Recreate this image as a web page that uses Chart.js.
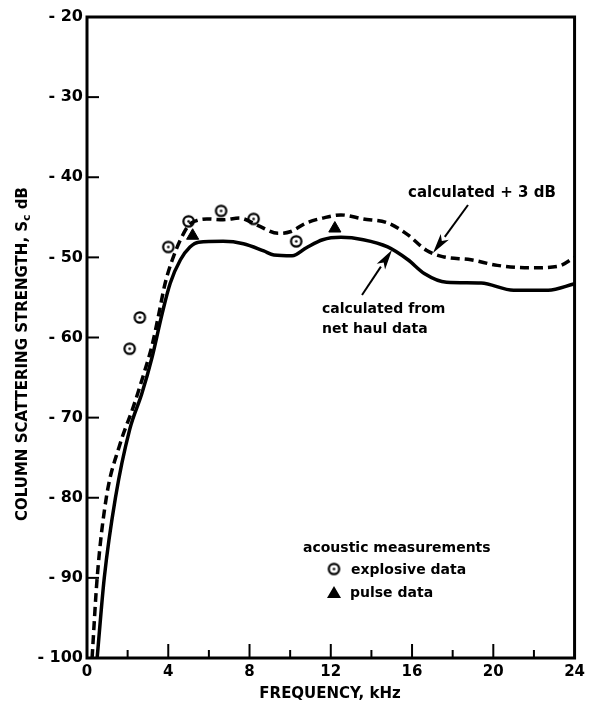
<!DOCTYPE html>
<html lang="en">
  <head>
    <meta charset="UTF-8" />
    <title>Column scattering strength</title>
    <script src="https://cdn.jsdelivr.net/npm/chart.js@4"></script>
  </head>
  <style>
    * {
      margin: 0;
      padding: 0;
      box-sizing: border-box;
    }
    body {
      background: #fff;
    }
    .wrap {
      position: relative;
      width: 590px;
      height: 708px;
    }
  </style>
  <body>
    <div class="wrap">
      <canvas id="chart"></canvas>
    </div>
    <script>
      // calculated from net haul data (solid)
      const netFreq = [0.5, 0.85, 1.4, 2.1, 2.7, 3.2, 3.7, 4.1, 4.6, 5.07, 5.5, 6.7, 7.7, 8.7, 9.2, 10.1, 10.8, 11.6, 12.5, 13.6, 14.8, 15.8, 16.6, 17.7, 19.4, 21, 22.7, 24];
      const netLevel = [-100, -90, -80, -71.5, -67, -62.5, -57, -53.2, -50.3, -48.7, -48.1, -48.0, -48.3, -49.2, -49.7, -49.8, -48.8, -47.8, -47.5, -47.8, -48.7, -50.3, -52, -53.1, -53.2, -54.1, -54.1, -53.3];
      // calculated + 3 dB (dashed)
      const plusFreq = [0.25, 0.5, 0.95, 1.6, 2.3, 2.8, 3.2, 3.5, 3.85, 4.2, 4.6, 5.0, 5.4, 5.9, 6.7, 7.5, 8.4, 9.4, 10, 10.8, 11.6, 12.5, 13.6, 14.8, 15.8, 16.7, 17.5, 18.9, 20.2, 21.8, 23.2, 24];
      const plusLevel = [-100, -90, -80, -73.5, -68.5, -64.5, -61, -57.5, -53.2, -50.3, -47.8, -46, -45.4, -45.2, -45.3, -45.1, -46, -47, -46.8, -45.7, -45.1, -44.7, -45.2, -45.7, -47.2, -49.1, -49.9, -50.3, -51, -51.3, -51.1, -50];
      // acoustic measurements
      const explosiveFreq = [2.1, 2.6, 4.0, 5.0, 6.6, 8.2, 10.3];
      const explosiveLevel = [-61.4, -57.5, -48.7, -45.5, -44.2, -45.2, -48.0];
      const pulseFreq = [5.2, 12.2];
      const pulseLevel = [-47.3, -46.4];

      const xTicks = [0, 4, 8, 12, 16, 20, 24];
      const yTicks = [-20, -30, -40, -50, -60, -70, -80, -90, -100];

      const pts = (xs, ys) => xs.map((x, i) => ({ x: x, y: ys[i] }));
      const FONT = "DejaVu Sans";

      // circle with a dot in the middle
      const ring = document.createElement("canvas");
      ring.width = 15;
      ring.height = 15;
      let rc = ring.getContext("2d");
      rc.fillStyle = "#fff";
      rc.strokeStyle = "#000";
      rc.lineWidth = 2.2;
      rc.beginPath();
      rc.arc(7.5, 7.5, 5.2, 0, Math.PI * 2);
      rc.fill();
      rc.stroke();
      rc.fillStyle = "#000";
      rc.beginPath();
      rc.arc(7.5, 7.5, 1.3, 0, Math.PI * 2);
      rc.fill();

      const arrow = (ctx, x1, y1, x2, y2) => {
        let a = Math.atan2(y2 - y1, x2 - x1);
        let hl = 20, hw = 5;
        let bx = x2 - hl * Math.cos(a), by = y2 - hl * Math.sin(a);
        ctx.lineWidth = 2;
        ctx.beginPath();
        ctx.moveTo(x1, y1);
        ctx.lineTo(bx, by);
        ctx.stroke();
        ctx.beginPath();
        ctx.moveTo(x2, y2);
        ctx.lineTo(bx - hw * Math.sin(a), by + hw * Math.cos(a));
        ctx.lineTo(x2 - (hl - 5) * Math.cos(a), y2 - (hl - 5) * Math.sin(a));
        ctx.lineTo(bx + hw * Math.sin(a), by - hw * Math.cos(a));
        ctx.closePath();
        ctx.fill();
      };

      const decor = {
        id: "decor",
        afterDraw(chart) {
          const ctx = chart.ctx;
          const a = chart.chartArea;
          const xs = chart.scales.x, ys = chart.scales.y;
          ctx.save();
          ctx.strokeStyle = "#000";
          ctx.fillStyle = "#000";
          ctx.lineWidth = 3;
          ctx.strokeRect(a.left, a.top, a.right - a.left, a.bottom - a.top);
          // inward ticks
          ctx.lineWidth = 2;
          for (let v = 2; v < 24; v += 2) {
            let px = xs.getPixelForValue(v);
            let len = v % 4 === 0 ? 14 : 8;
            ctx.beginPath();
            ctx.moveTo(px, a.bottom);
            ctx.lineTo(px, a.bottom - len);
            ctx.stroke();
          }
          for (let v = -30; v > -100; v -= 10) {
            let py = ys.getPixelForValue(v);
            ctx.beginPath();
            ctx.moveTo(a.left, py);
            ctx.lineTo(a.left + 12, py);
            ctx.stroke();
          }
          // arrows
          arrow(ctx, 468, 205, 433, 253);
          arrow(ctx, 362, 295, 392, 250);
          // annotation text
          ctx.textBaseline = "middle";
          ctx.textAlign = "left";
          ctx.font = "bold 15px " + FONT;
          ctx.fillText("calculated + 3 dB", 408, 193);
          ctx.font = "bold 14px " + FONT;
          ctx.fillText("calculated from", 322, 309);
          ctx.fillText("net haul data", 322, 329);
          ctx.fillText("acoustic measurements", 303, 548);
          ctx.fillText("explosive data", 351, 570);
          ctx.fillText("pulse data", 350, 593);
          ctx.drawImage(ring, 334 - 7.5, 569 - 7.5);
          ctx.beginPath();
          ctx.moveTo(334, 586);
          ctx.lineTo(341, 598);
          ctx.lineTo(327, 598);
          ctx.closePath();
          ctx.fill();
          // axis titles
          ctx.font = "bold 15px " + FONT;
          ctx.textAlign = "center";
          ctx.fillText("FREQUENCY, kHz", 330, 694);
          ctx.translate(23, 354);
          ctx.rotate(-Math.PI / 2);
          let t1 = "COLUMN SCATTERING STRENGTH, S";
          let t3 = " dB";
          ctx.font = "bold 15px " + FONT;
          let w1 = ctx.measureText(t1).width;
          let w3 = ctx.measureText(t3).width;
          ctx.font = "bold 11px " + FONT;
          let w2 = ctx.measureText("c").width;
          let x0 = -(w1 + w2 + w3) / 2;
          ctx.textAlign = "left";
          ctx.font = "bold 15px " + FONT;
          ctx.fillText(t1, x0, 0);
          ctx.fillText(t3, x0 + w1 + w2, 0);
          ctx.font = "bold 11px " + FONT;
          ctx.fillText("c", x0 + w1, 4);
          ctx.restore();
        },
      };

      new Chart(document.getElementById("chart"), {
        type: "line",
        plugins: [decor],
        data: {
          datasets: [
            {
              label: "calculated + 3 dB",
              data: pts(plusFreq, plusLevel),
              borderColor: "#000",
              borderWidth: 3.5,
              borderDash: [9, 5],
              pointRadius: 0,
              cubicInterpolationMode: "monotone",
            },
            {
              label: "calculated from net haul data",
              data: pts(netFreq, netLevel),
              borderColor: "#000",
              borderWidth: 3.5,
              pointRadius: 0,
              cubicInterpolationMode: "monotone",
            },
            {
              label: "explosive data",
              data: pts(explosiveFreq, explosiveLevel),
              showLine: false,
              pointStyle: ring,
            },
            {
              label: "pulse data",
              data: pts(pulseFreq, pulseLevel),
              showLine: false,
              pointStyle: "triangle",
              pointRadius: 7,
              backgroundColor: "#000",
              borderColor: "#000",
            },
          ],
        },
        options: {
          responsive: true,
          maintainAspectRatio: false,
          animation: false,
          layout: { padding: { top: 17, right: 15, left: 0, bottom: 0 } },
          plugins: {
            legend: { display: false },
            tooltip: { enabled: false },
          },
          scales: {
            x: {
              type: "linear",
              min: 0,
              max: 24,
              afterFit: (s) => (s.height = 50),
              afterBuildTicks: (s) => (s.ticks = xTicks.map((v) => ({ value: v }))),
              grid: { display: false, drawTicks: false },
              border: { display: false },
              ticks: {
                color: "#000",
                padding: 5,
                maxRotation: 0,
                font: { family: FONT, size: 15, weight: "bold" },
              },
            },
            y: {
              min: -100,
              max: -20,
              afterFit: (s) => (s.width = 87),
              afterBuildTicks: (s) => (s.ticks = yTicks.map((v) => ({ value: v }))),
              grid: { display: false, drawTicks: false },
              border: { display: false },
              ticks: {
                color: "#000",
                padding: 4,
                font: { family: FONT, size: 16, weight: "bold" },
                callback: (v) => "- " + Math.abs(v),
              },
            },
          },
        },
      });
    </script>
  </body>
</html>
